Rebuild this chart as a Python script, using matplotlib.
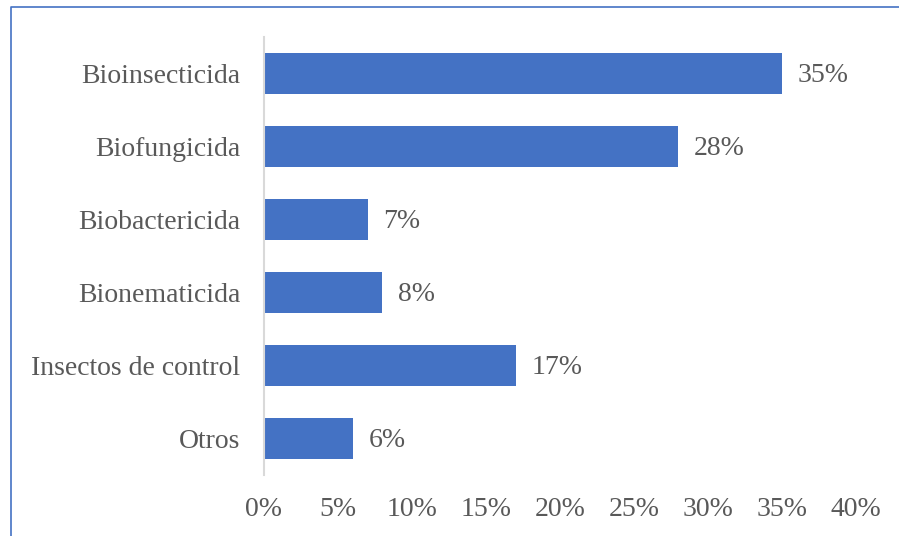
import matplotlib
matplotlib.use('Agg')
import matplotlib.pyplot as plt
from matplotlib.lines import Line2D
import numpy as np

categories = ['Bioinsecticida', 'Biofungicida', 'Biobactericida',
              'Bionematicida', 'Insectos de control', 'Otros']
values = [35, 28, 7, 8, 17, 6]
xticks = [0, 5, 10, 15, 20, 25, 30, 35, 40]

plt.rcParams['font.family'] = ['Liberation Serif', 'DejaVu Serif']
txt = '#595959'
blue = '#4472C4'
fs = 20

fig = plt.figure(figsize=(8.99, 5.36), dpi=100)
ax = fig.add_axes([264/899, 61/536, (856-264)/899, (475-37)/536])

y = np.arange(len(categories))
ax.barh(y, values, height=0.56, color=blue)
ax.set_ylim(len(categories) - 0.5, -0.5)
ax.set_xlim(0, 40)
ax.set_yticks(y)
ax.set_yticklabels(categories, fontsize=fs, color=txt)
ax.set_xticks(xticks)
ax.set_xticklabels([f'{t}%' for t in xticks], fontsize=fs, color=txt)
ax.tick_params(axis='y', length=0, pad=17)
ax.tick_params(axis='x', length=0, pad=16)

for s in ['top', 'right', 'bottom']:
    ax.spines[s].set_visible(False)
ax.spines['left'].set_color('#D9D9D9')
ax.spines['left'].set_linewidth(1.5)

for yi, v in zip(y, values):
    ax.text(v + 1.05, yi + 0.03, f'{v}%', va='center', ha='left', fontsize=fs, color=txt)

# chart frame
fx = 11/899
fy = 1 - 7/536
fig.add_artist(Line2D([fx, fx, 1], [0, fy, fy], transform=fig.transFigure,
                      color=blue, linewidth=1.2))

fig.savefig('out.png', dpi=100)
